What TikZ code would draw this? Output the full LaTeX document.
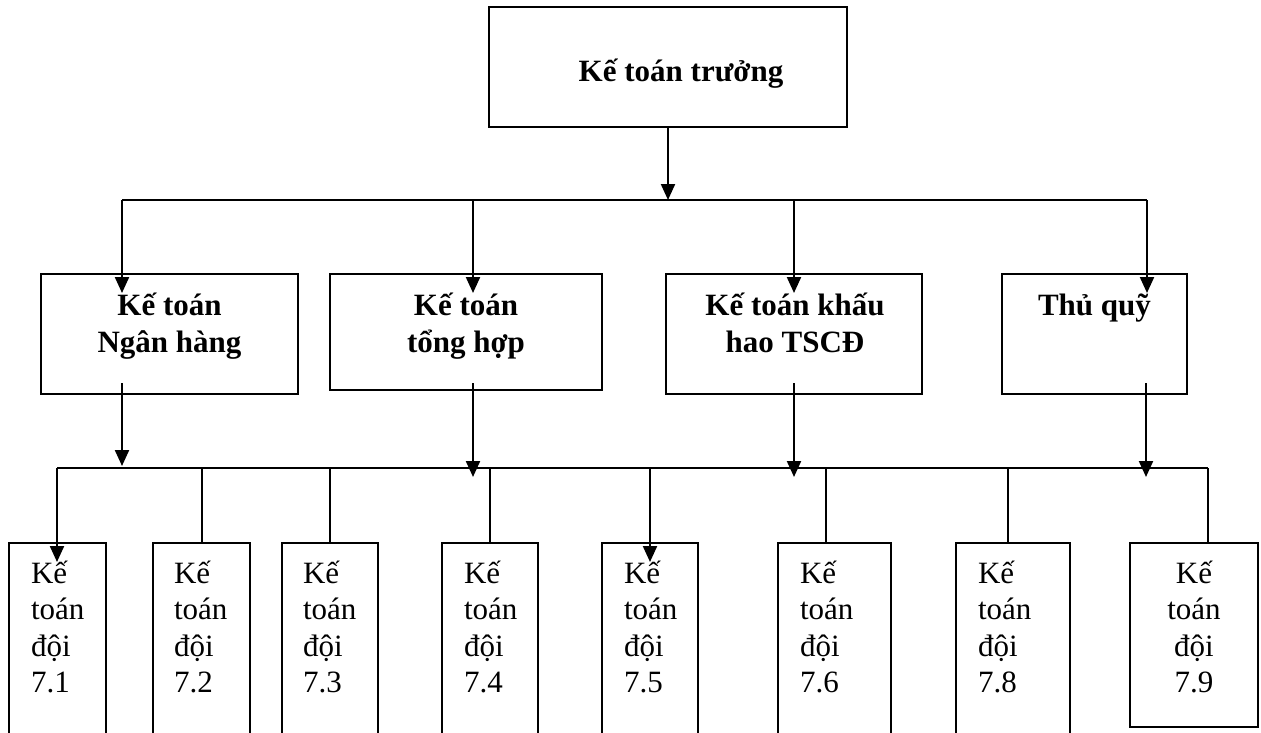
\documentclass[tikz,border=0pt]{standalone}
\usepackage{fontspec}
\setmainfont{Liberation Serif}
\usetikzlibrary{arrows.meta,calc}
\begin{document}
\begin{tikzpicture}[x=1pt,y=-1pt,
  line width=2.2pt,
  frame/.style={draw, line width=2.2pt, inner sep=0pt, outer sep=0pt},
  arr/.style={-{Triangle[length=16pt,width=14pt]}},
  headtext/.style={inner sep=0pt, font=\fontsize{31}{37}\selectfont\bfseries},
  midtext/.style={inner sep=0pt, align=center, font=\fontsize{31}{37}\selectfont\bfseries},
  lowtext/.style={inner sep=0pt, align=left, font=\fontsize{31}{36.5}\selectfont},
  lowtextc/.style={inner sep=0pt, align=center, font=\fontsize{31}{36.5}\selectfont}
]
\clip (0,0) rectangle (1261,733);

% ---- top box ----
\node[frame, minimum width=358pt, minimum height=120pt] (ktt) at (668,67) {};
\node[headtext, anchor=base] (kttT) at ($(ktt.north)+(13,75)$) {Kế toán trưởng};

% ---- second level ----
\node[frame, minimum width=257pt, minimum height=120pt] (nh) at (169.5,334) {};
\node[frame, minimum width=272pt, minimum height=116pt] (th) at (466,332) {};
\node[frame, minimum width=256pt, minimum height=120pt] (kh) at (794,334) {};
\node[frame, minimum width=185pt, minimum height=120pt] (tq) at (1094.5,334) {};

\node[midtext, anchor=base] (nhT) at ($(nh.north)+(0,78)$) {Kế toán\\Ngân hàng};
\node[midtext, anchor=base] (thT) at ($(th.north)+(0,78)$) {Kế toán\\tổng hợp};
\node[midtext, anchor=base] (khT) at ($(kh.north)+(1,78)$) {Kế toán khấu\\hao TSCĐ};
\node[midtext, anchor=base] (tqT) at ($(tq.north)+(0,41)$) {Thủ quỹ};

% ---- third level ----
\node[frame, minimum width=97pt,  minimum height=202pt] (d1) at (57.5,644) {};
\node[frame, minimum width=97pt,  minimum height=202pt] (d2) at (201.5,644) {};
\node[frame, minimum width=96pt,  minimum height=202pt] (d3) at (330,644) {};
\node[frame, minimum width=96pt,  minimum height=202pt] (d4) at (490,644) {};
\node[frame, minimum width=96pt,  minimum height=202pt] (d5) at (650,644) {};
\node[frame, minimum width=113pt, minimum height=202pt] (d6) at (834.5,644) {};
\node[frame, minimum width=114pt, minimum height=202pt] (d8) at (1013,644) {};
\node[frame, minimum width=128pt, minimum height=184pt] (d9) at (1194,635) {};

\node[lowtext, anchor=base west] (d1T) at ($(d1.north west)+(21,149.5)$) {Kế\\toán\\đội\\7.1};
\node[lowtext, anchor=base west] (d2T) at ($(d2.north west)+(20,149.5)$) {Kế\\toán\\đội\\7.2};
\node[lowtext, anchor=base west] (d3T) at ($(d3.north west)+(20,149.5)$) {Kế\\toán\\đội\\7.3};
\node[lowtext, anchor=base west] (d4T) at ($(d4.north west)+(21,149.5)$) {Kế\\toán\\đội\\7.4};
\node[lowtext, anchor=base west] (d5T) at ($(d5.north west)+(21,149.5)$) {Kế\\toán\\đội\\7.5};
\node[lowtext, anchor=base west] (d6T) at ($(d6.north west)+(21,149.5)$) {Kế\\toán\\đội\\7.6};
\node[lowtext, anchor=base west] (d8T) at ($(d8.north west)+(21,149.5)$) {Kế\\toán\\đội\\7.8};
\node[lowtextc, anchor=base] (d9T) at ($(d9.north)+(0,149.5)$) {Kế\\toán\\đội\\7.9};

% ---- upper bus ----
\coordinate (u1) at (122,200);
\coordinate (u2) at (473,200);
\coordinate (u3) at (794,200);
\coordinate (u4) at (1147,200);

\draw[arr] (ktt.south) -- (ktt.south |- u1);
\draw (u1) -- (u4);
\draw[arr] (u1) -- ($(u1 |- nh.north)+(0,19)$);
\draw[arr] (u2) -- ($(u2 |- th.north)+(0,19)$);
\draw[arr] (u3) -- ($(u3 |- kh.north)+(0,19)$);
\draw[arr] (u4) -- ($(u4 |- tq.north)+(0,19)$);

% ---- lower bus ----
\coordinate (w1) at (57,468);
\coordinate (w2) at (202,468);
\coordinate (w3) at (330,468);
\coordinate (w4) at (490,468);
\coordinate (w5) at (650,468);
\coordinate (w6) at (826,468);
\coordinate (w7) at (1008,468);
\coordinate (w8) at (1208,468);

\draw[arr] ($(u1 |- nh.south)+(0,-11)$) -- ($(u1 |- w1)+(0,-2)$);
\draw[arr] ($(u2 |- th.south)+(0,-7)$)  -- ($(u2 |- w1)+(0,9)$);
\draw[arr] ($(u3 |- kh.south)+(0,-11)$) -- ($(u3 |- w1)+(0,9)$);
\draw[arr] ($(1146,0 |- tq.south)+(0,-11)$) -- ($(1146,0 |- w1)+(0,9)$);

\draw (w1) -- (w8);
\draw[arr] (w1) -- ($(w1 |- d1.north)+(0,19)$);
\draw (w2) -- (w2 |- d2.north);
\draw (w3) -- (w3 |- d3.north);
\draw (w4) -- (w4 |- d4.north);
\draw[arr] (w5) -- ($(w5 |- d5.north)+(0,19)$);
\draw (w6) -- (w6 |- d6.north);
\draw (w7) -- (w7 |- d8.north);
\draw (w8) -- (w8 |- d9.north);
\end{tikzpicture}
\end{document}
